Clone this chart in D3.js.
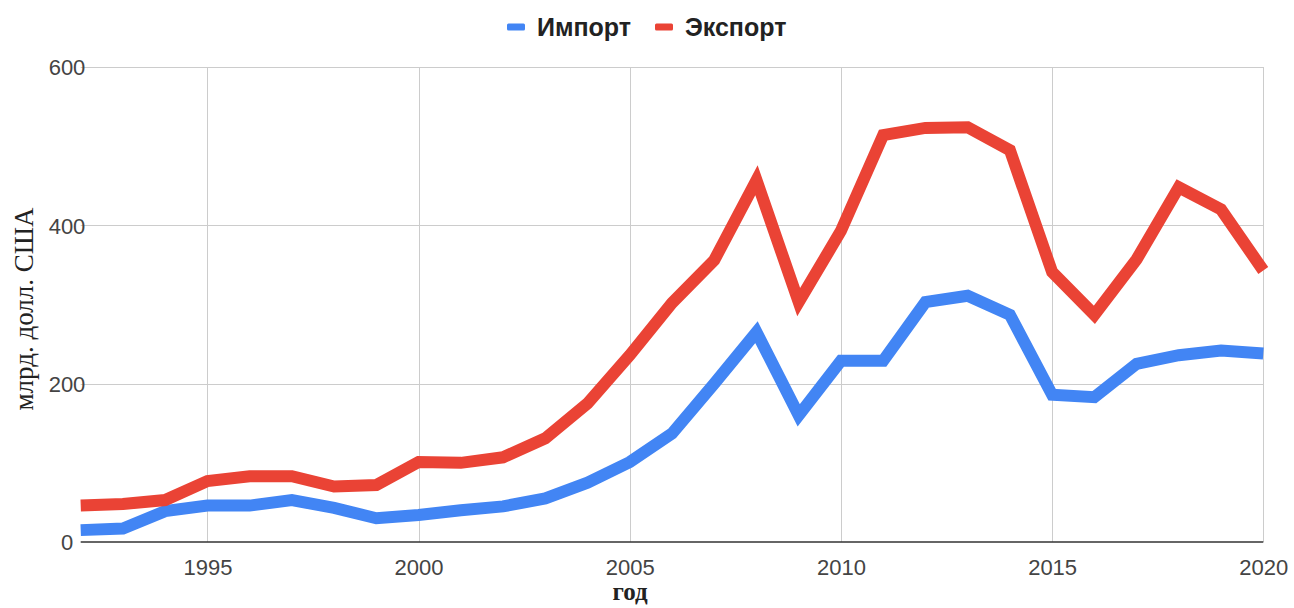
<!DOCTYPE html>
<html>
<head>
<meta charset="utf-8">
<script src="https://cdn.jsdelivr.net/npm/d3@7"></script>
<style>
  body { margin: 0; background: #fff; }
  svg { display: block; }
</style>
</head>
<body>
<div id="chart"></div>
<script>
var years = d3.range(1992, 2021);
var imports = [15, 17, 39, 46, 46, 53, 43, 30, 34, 40, 45, 55, 75, 101, 137, 200, 265, 160, 229, 229, 303, 311, 287, 186, 183, 225, 236, 242, 238];
var exports = [46, 48, 53, 77, 83, 83, 70, 72, 101, 100, 107, 131, 175, 236, 302, 356, 457, 303, 393, 514, 523, 524, 495, 341, 287, 357, 448, 420, 343];
var seriesNames = ["Импорт", "Экспорт"];
var seriesColors = ["#4285f4", "#ea4335"];
var xTicks = [1995, 2000, 2005, 2010, 2015, 2020];
var yTicks = [0, 200, 400, 600];

var width = 1294,
    height = 608;

var x = d3.scaleLinear()
    .domain([1992, 2020])
    .range([80.7, 1263.3]);

var y = d3.scaleLinear()
    .domain([0, 600])
    .range([542, 67]);

var svg = d3.select("#chart")
    .append("svg")
    .attr("width", width)
    .attr("height", height);

// grid
svg.append("g")
    .selectAll("line")
    .data(yTicks.filter(function(d) { return d > 0; }))
    .enter()
    .append("line")
    .attr("x1", x.range()[0])
    .attr("x2", x.range()[1])
    .attr("y1", function(d) { return Math.round(y(d)) + 0.5; })
    .attr("y2", function(d) { return Math.round(y(d)) + 0.5; })
    .style("stroke", "#cccccc")
    .style("stroke-width", 1);

svg.append("g")
    .selectAll("line")
    .data(xTicks)
    .enter()
    .append("line")
    .attr("x1", function(d) { return Math.round(x(d)) + 0.5; })
    .attr("x2", function(d) { return Math.round(x(d)) + 0.5; })
    .attr("y1", y(600))
    .attr("y2", y(0))
    .style("stroke", "#cccccc")
    .style("stroke-width", 1);

// y axis labels
var yAxis = svg.append("g")
    .attr("transform", "translate(67,0)")
    .call(d3.axisLeft(y).tickValues(yTicks).tickSize(0).tickPadding(0).tickFormat(d3.format("d")));
yAxis.select(".domain").remove();
yAxis.selectAll("text")
    .style("font-family", "Arial, 'Liberation Sans', sans-serif")
    .style("font-size", "22px")
    .style("fill", "#444")
    .style("text-anchor", "middle")
    .attr("dy", "0.35em");

// x axis labels
var xAxis = svg.append("g")
    .attr("transform", "translate(0," + y(0) + ")")
    .call(d3.axisBottom(x).tickValues(xTicks).tickSize(0).tickPadding(17).tickFormat(d3.format("d")));
xAxis.select(".domain").remove();
xAxis.selectAll("text")
    .style("font-family", "Arial, 'Liberation Sans', sans-serif")
    .style("font-size", "22px")
    .style("fill", "#444");

// baseline
svg.append("line")
    .attr("x1", x.range()[0])
    .attr("x2", x.range()[1])
    .attr("y1", y(0))
    .attr("y2", y(0))
    .style("stroke", "#333")
    .style("stroke-width", 1.5);

// lines
var line = d3.line()
    .x(function(d, i) { return x(years[i]); })
    .y(function(d) { return y(d); });

[imports, exports].forEach(function(values, i) {
    svg.append("path")
        .datum(values)
        .attr("d", line)
        .style("fill", "none")
        .style("stroke", seriesColors[i])
        .style("stroke-width", 12)
        .style("stroke-linejoin", "miter")
        .style("stroke-linecap", "butt");
});

// axis titles
svg.append("text")
    .attr("transform", "translate(33,309) rotate(-90)")
    .style("text-anchor", "middle")
    .style("font-family", "'Liberation Serif', 'Times New Roman', serif")
    .style("font-size", "27px")
    .style("fill", "#222")
    .text("млрд. долл. США");

svg.append("text")
    .attr("x", 630)
    .attr("y", 600)
    .style("text-anchor", "middle")
    .style("font-family", "'Liberation Serif', 'Times New Roman', serif")
    .style("font-size", "25px")
    .style("font-weight", "bold")
    .style("fill", "#222")
    .text("год");

// legend
var legendX = [507, 655];
var legend = svg.append("g")
    .selectAll("g")
    .data(seriesNames)
    .enter()
    .append("g")
    .attr("transform", function(d, i) { return "translate(" + legendX[i] + ",27)"; });

legend.append("rect")
    .attr("x", 0)
    .attr("y", -3.5)
    .attr("width", 18)
    .attr("height", 7)
    .attr("rx", 1.5)
    .style("fill", function(d, i) { return seriesColors[i]; });

legend.append("text")
    .attr("x", 30)
    .attr("dy", "0.35em")
    .style("font-family", "Arial, 'Liberation Sans', sans-serif")
    .style("font-size", "25px")
    .style("font-weight", "bold")
    .style("fill", "#222")
    .text(function(d) { return d; });
</script>
</body>
</html>
